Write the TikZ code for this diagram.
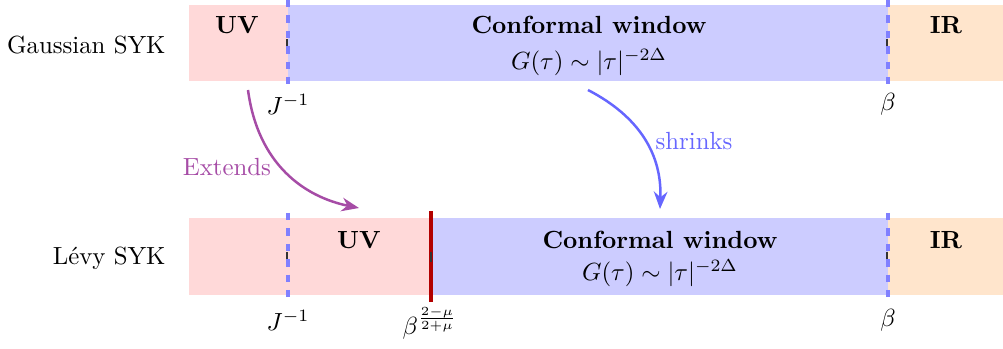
\documentclass[tikz,border=0pt]{standalone}
\usetikzlibrary{arrows.meta}
\begin{document}
\begin{tikzpicture}[x=0.403pt,y=-0.403pt,
  lbl/.style={inner sep=0pt},
  bold/.style={inner sep=0pt,font=\bfseries},
  bnd/.style={draw=blue!50,line width=1.4pt,dash pattern=on 3pt off 3.2pt},
  tickm/.style={draw=black!80,line width=0.5pt},
  arr/.style={line width=1pt,-{Stealth[length=7pt,width=5.5pt]}}]
\useasboundingbox (0,0) rectangle (1003,349);
% top bar
\fill[red!15] (189,5) rectangle (288,81);
\fill[blue!20] (288,5) rectangle (888,81);
\fill[orange!20] (888,5) rectangle (1003,81);
% bottom bar
\fill[red!15] (189,218) rectangle (431,295);
\fill[blue!20] (431,218) rectangle (888,295);
\fill[orange!20] (888,218) rectangle (1003,295);
% small ticks
\draw[tickm] (287,39) -- (287,48);
\draw[tickm] (887,39) -- (887,48);
\draw[tickm] (287,252) -- (287,261);
\draw[tickm] (887,252) -- (887,261);
% boundaries
\draw[bnd] (288,0) -- (288,88);
\draw[bnd] (888,0) -- (888,88);
\draw[bnd] (288,213) -- (288,302);
\draw[bnd] (888,213) -- (888,302);
\draw[red!70!black,line width=1.4pt] (431,211) -- (431,302);
\draw[tickm] (431,252) -- (431,262);
% labels
\node[lbl,anchor=east] (gs) at (166,45) {Gaussian SYK};
\node[lbl,anchor=east] (ls) at (166,258) {L\'evy SYK};
\node[bold] (uv1) at (237,25) {UV};
\node[bold] (cw1) at (589,25) {Conformal window};
\node[lbl] (g1) at (589,62) {$G(\tau)\sim|\tau|^{-2\Delta}$};
\node[bold] (ir1) at (946,25) {IR};
\node[lbl] (j1) at (288,104) {$J^{-1}$};
\node[lbl] (b1) at (888,104) {$\beta$};
\node[bold] (uv2) at (359,240) {UV};
\node[bold] (cw2) at (660,240) {Conformal window};
\node[lbl] (g2) at (660,273) {$G(\tau)\sim|\tau|^{-2\Delta}$};
\node[bold] (ir2) at (946,240) {IR};
\node[lbl] (j2) at (288,320) {$J^{-1}$};
\node[lbl] (b2) at (430,323) {$\beta^{\frac{2-\mu}{2+\mu}}$};
\node[lbl] (b3) at (888,320) {$\beta$};
% arrows
\coordinate (e0) at (248,90);
\coordinate (e1) at (359,208);
\coordinate (s0) at (588,90);
\coordinate (s1) at (660,209);
\draw[arr,violet!70] (e0) .. controls (258,165) and (305,197) .. (e1);
\draw[arr,blue!60] (s0) .. controls (640,117) and (662,155) .. (s1);
\node[lbl,text=violet!70] (ext) at (227,167) {Extends};
\node[lbl,text=blue!60] (shr) at (694,141) {shrinks};
\end{tikzpicture}
\end{document}
